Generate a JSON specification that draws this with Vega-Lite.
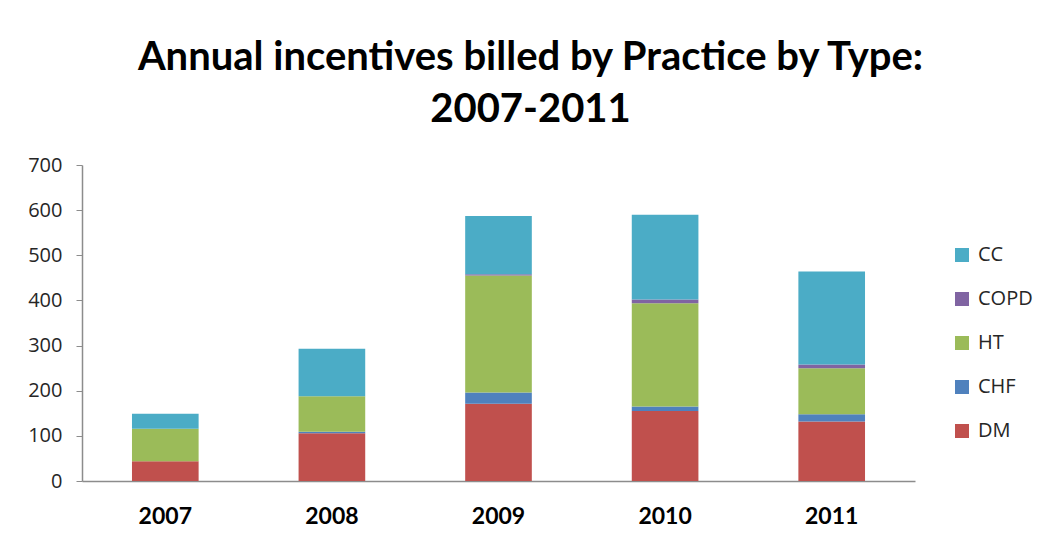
{
  "$schema": "https://vega.github.io/schema/vega-lite/v6.json",
  "autosize": {"type": "none"},
  "padding": {"left": 82, "top": 165, "right": 127, "bottom": 59},
  "width": 833,
  "height": 316,
  "background": "white",
  "title": {
    "text": ["Annual incentives billed by Practice by Type:", "2007-2011"],
    "font": "Lato",
    "fontSize": 40,
    "fontWeight": "bold",
    "color": "#000000",
    "lineHeight": 52,
    "anchor": "middle",
    "frame": "group",
    "dx": 32,
    "offset": 25
  },
  "data": {
    "values": [
      {"year": "2007", "type": "DM", "value": 44},
      {"year": "2007", "type": "CHF", "value": 0},
      {"year": "2007", "type": "HT", "value": 72},
      {"year": "2007", "type": "COPD", "value": 0},
      {"year": "2007", "type": "CC", "value": 33},
      {"year": "2008", "type": "DM", "value": 106},
      {"year": "2008", "type": "CHF", "value": 3},
      {"year": "2008", "type": "HT", "value": 79},
      {"year": "2008", "type": "COPD", "value": 0},
      {"year": "2008", "type": "CC", "value": 105},
      {"year": "2009", "type": "DM", "value": 171},
      {"year": "2009", "type": "CHF", "value": 25},
      {"year": "2009", "type": "HT", "value": 259},
      {"year": "2009", "type": "COPD", "value": 3},
      {"year": "2009", "type": "CC", "value": 129},
      {"year": "2010", "type": "DM", "value": 155},
      {"year": "2010", "type": "CHF", "value": 10},
      {"year": "2010", "type": "HT", "value": 229},
      {"year": "2010", "type": "COPD", "value": 8},
      {"year": "2010", "type": "CC", "value": 188},
      {"year": "2011", "type": "DM", "value": 132},
      {"year": "2011", "type": "CHF", "value": 16},
      {"year": "2011", "type": "HT", "value": 102},
      {"year": "2011", "type": "COPD", "value": 8},
      {"year": "2011", "type": "CC", "value": 206}
    ]
  },
  "transform": [
    {"calculate": "indexof(['DM','CHF','HT','COPD','CC'], datum.type)", "as": "ord"}
  ],
  "mark": {"type": "bar"},
  "encoding": {
    "x": {
      "field": "year",
      "type": "nominal",
      "scale": {"paddingInner": 0.6, "paddingOuter": 0.3},
      "axis": {
        "title": null,
        "labelAngle": 0,
        "labelFont": "Lato",
        "labelFontSize": 23,
        "labelFontWeight": "bold",
        "labelColor": "#000000",
        "labelPadding": 24,
        "ticks": false,
        "domainColor": "#8c8c8c",
        "domainWidth": 1.5
      }
    },
    "y": {
      "field": "value",
      "type": "quantitative",
      "stack": "zero",
      "scale": {"domain": [0, 700], "nice": false},
      "axis": {
        "title": null,
        "values": [0, 100, 200, 300, 400, 500, 600, 700],
        "grid": false,
        "labelFont": "Open Sans",
        "labelFontSize": 20,
        "labelColor": "#262626",
        "labelPadding": 14,
        "tickSize": 6,
        "tickColor": "#8c8c8c",
        "domainColor": "#8c8c8c",
        "domainWidth": 1.5
      }
    },
    "color": {
      "field": "type",
      "type": "nominal",
      "scale": {
        "domain": ["CC", "COPD", "HT", "CHF", "DM"],
        "range": ["#4BACC6", "#8064A2", "#9BBB59", "#4F81BD", "#C0504D"]
      },
      "legend": {
        "title": null,
        "orient": "none",
        "legendX": 870,
        "legendY": 80,
        "symbolType": "square",
        "symbolSize": 196,
        "symbolStrokeWidth": 0,
        "labelFont": "Open Sans",
        "labelFontSize": 20,
        "labelColor": "#262626",
        "labelOffset": 6,
        "rowPadding": 24
      }
    },
    "order": {"field": "ord", "type": "quantitative"}
  },
  "config": {"view": {"stroke": null}}
}
